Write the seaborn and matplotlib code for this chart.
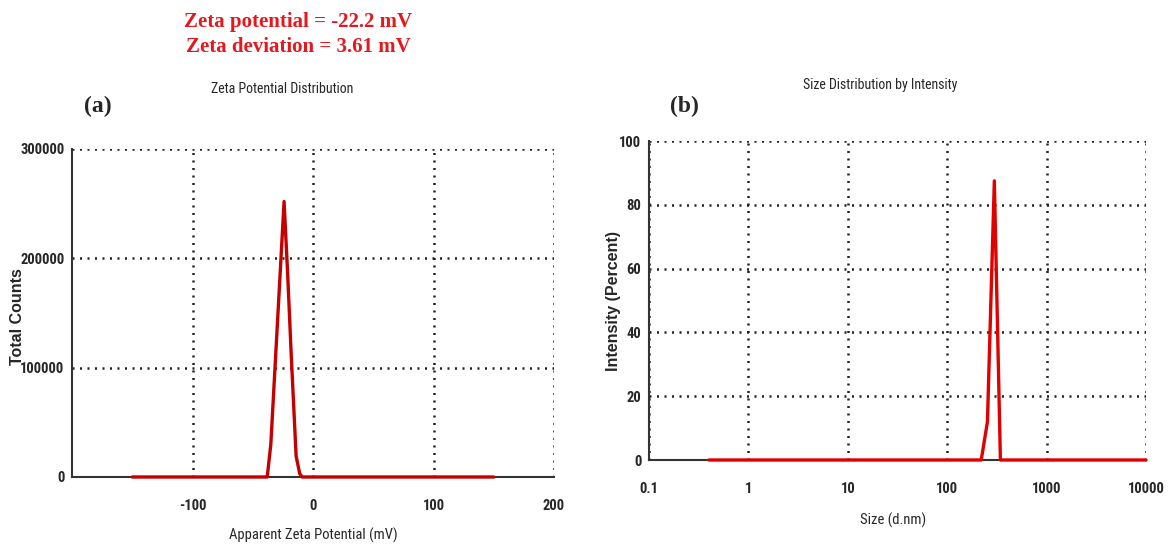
import os
import numpy as np
import pandas as pd
import matplotlib
matplotlib.use("Agg")
import matplotlib.pyplot as plt
import matplotlib.font_manager as fm
import seaborn as sns
from matplotlib.ticker import FixedLocator, LogLocator, NullFormatter, FuncFormatter

# ---- data ----
zeta_mv = [-150, -38, -35, -24, -21, -18, -14, -11, -9, 150]
zeta_counts = [0, 0, 30000, 252000, 185000, 110000, 19000, 3000, 0, 0]

size_nm = [0.4, 220, 254, 298, 343, 10000]
intensity_pct = [0, 0, 12, 87.5, 0, 0]

zeta_xticks = [-100, 0, 100, 200]
zeta_yticks = [0, 100000, 200000, 300000]
size_xticks = [0.1, 1, 10, 100, 1000, 10000]
size_xticklabels = ["0.1", "1", "10", "100", "1000", "10000"]
size_yticks = [0, 20, 40, 60, 80, 100]

sns.set_style("white")
plt.rcParams["font.family"] = ["Liberation Sans", "DejaVu Sans"]
plt.rcParams["axes.unicode_minus"] = False

_files = sorted(fm.findSystemFonts())


def find_file(keys):
    for key in keys:
        for f in _files:
            if os.path.basename(f).lower().startswith(key.lower()):
                return f
    return None


NB_FILE = find_file(["LiberationSansNarrow-Bold.", "NotoSans-CondensedBold.",
                     "NotoSans-ExtraCondensedBold.", "RobotoCondensed-Bold.",
                     "DejaVuSansCondensed-Bold.", "OpenSans-CondBold",
                     "OpenSans_Condensed-Bold."])
NR_FILE = find_file(["LiberationSansNarrow-Regular.", "NotoSans-ExtraCondensed.",
                     "NotoSans-Condensed.", "RobotoCondensed-Regular.",
                     "DejaVuSansCondensed.", "OpenSans_Condensed-Regular."])
SB_FILE = find_file(["LiberationSans-Bold."])
SERIF_FILE = find_file(["LiberationSerif-Bold."])


def fp(path, family, weight, size):
    if path:
        return fm.FontProperties(fname=path, size=size)
    return fm.FontProperties(family=family, weight=weight, size=size)


def narrow_bold(size):
    return fp(NB_FILE, "Liberation Sans", "bold", size)


def narrow_reg(size):
    return fp(NR_FILE, "Liberation Sans", "normal", size)


def sans_bold(size):
    return fp(SB_FILE, "Liberation Sans", "bold", size)


def serif_bold(size):
    return fp(SERIF_FILE, "Liberation Serif", "bold", size)


W, H = 1171, 547
fig = plt.figure(figsize=(W / 100, H / 100), dpi=100)


def frac(l, t, r, b):
    return [l / W, 1 - b / H, (r - l) / W, (b - t) / H]


axa = fig.add_axes(frac(72, 149, 554, 477))
axb = fig.add_axes(frac(649, 141, 1146, 460))

dfa = pd.DataFrame({"x": zeta_mv, "y": zeta_counts})
dfb = pd.DataFrame({"x": size_nm, "y": intensity_pct})

for ax in (axa, axb):
    for s in ("top", "right"):
        ax.spines[s].set_visible(False)
    for s in ("left", "bottom"):
        ax.spines[s].set_color("#333333")
        ax.spines[s].set_linewidth(1.5)
    ax.set_facecolor("white")

# ---- panel (a) ----
sns.lineplot(data=dfa, x="x", y="y", ax=axa, color="#c40000", linewidth=2.4,
             clip_on=False, zorder=5)
axa.set_xlim(-200, 200)
axa.set_ylim(0, 300000)
axa.xaxis.set_major_locator(FixedLocator(zeta_xticks))
axa.xaxis.set_minor_locator(FixedLocator([-150, -50, 50, 150]))
axa.yaxis.set_major_locator(FixedLocator(zeta_yticks))
axa.yaxis.set_minor_locator(FixedLocator([50000, 150000, 250000]))
axa.yaxis.set_major_formatter(FuncFormatter(lambda v, p: f"{int(v)}"))
axa.set_xlabel("Apparent Zeta Potential (mV)", fontproperties=narrow_reg(10.5))
axa.set_ylabel("Total Counts", fontproperties=sans_bold(11.5))
axa.xaxis.set_label_coords(0.5, -0.177)
axa.yaxis.set_label_coords(-0.114, 0.49)

# ---- panel (b) ----
sns.lineplot(data=dfb, x="x", y="y", ax=axb, color="#e00000", linewidth=2.4,
             clip_on=False, zorder=5)
axb.set_xscale("log")
axb.set_xlim(0.1, 10000)
axb.set_ylim(0, 100)
axb.xaxis.set_major_locator(FixedLocator(size_xticks))
axb.set_xticklabels(size_xticklabels)
axb.xaxis.set_minor_locator(LogLocator(base=10, subs=np.arange(2, 10), numticks=20))
axb.xaxis.set_minor_formatter(NullFormatter())
axb.yaxis.set_major_locator(FixedLocator(size_yticks))
axb.yaxis.set_minor_locator(FixedLocator([10, 30, 50, 70, 90]))
axb.set_xlabel("Size (d.nm)", fontproperties=narrow_reg(10.5))
axb.set_ylabel("Intensity (Percent)", fontproperties=sans_bold(11.5))
axb.xaxis.set_label_coords(0.491, -0.188)
axb.yaxis.set_label_coords(-0.072, 0.5)

for ax in (axa, axb):
    ax.xaxis.label.set_verticalalignment("center")
    ax.yaxis.label.set_verticalalignment("center")
    ax.grid(True, which="major", linestyle=(0, (0.8, 2.2)), color="#222222",
            linewidth=1.8)
    ax.tick_params(axis="both", which="major", direction="inout", length=7,
                   width=1.3, color="#333333")
    ax.tick_params(axis="both", which="minor", direction="inout", length=7,
                   width=1.3, color="#333333")
    ax.tick_params(axis="x", which="major", pad=12)
    ax.tick_params(axis="y", which="major", pad=2)
    for lab in ax.get_xticklabels() + ax.get_yticklabels():
        lab.set_fontproperties(narrow_bold(10.5))
    ax.set_axisbelow(True)

# ---- annotations ----
fig.text(282 / W, 1 - 89 / H, "Zeta Potential Distribution",
         fontproperties=narrow_reg(10), ha="center", va="center")
fig.text(880 / W, 1 - 85 / H, "Size Distribution by Intensity",
         fontproperties=narrow_reg(10), ha="center", va="center")
fig.text(298 / W, 1 - 22 / H, "Zeta potential = -22.2 mV", color="#e3191f",
         fontproperties=serif_bold(15), ha="center", va="center")
fig.text(298 / W, 1 - 47 / H, "Zeta deviation = 3.61 mV", color="#e3191f",
         fontproperties=serif_bold(15), ha="center", va="center")
fig.text(98 / W, 1 - 106 / H, "(a)", fontproperties=serif_bold(17),
         ha="center", va="center")
fig.text(684 / W, 1 - 106 / H, "(b)", fontproperties=serif_bold(17),
         ha="center", va="center")

fig.savefig("out.png", dpi=100, facecolor="white")
